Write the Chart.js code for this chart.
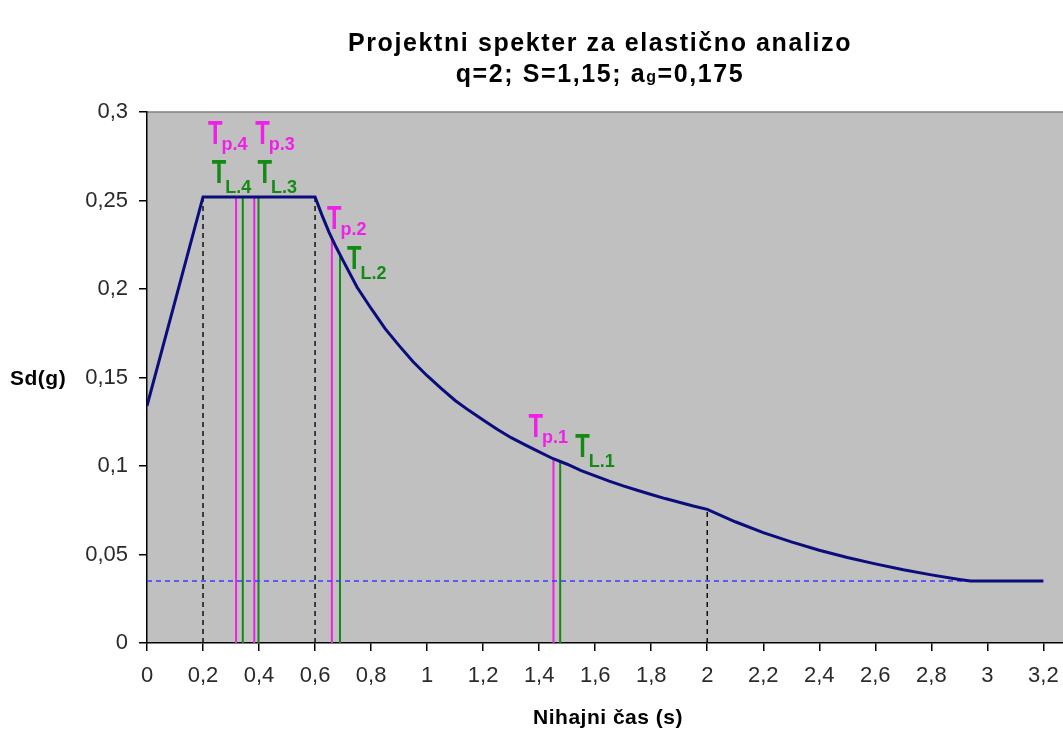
<!DOCTYPE html>
<html>
<head>
<meta charset="utf-8">
<script src="https://cdn.jsdelivr.net/npm/chart.js@4/dist/chart.umd.min.js"></script>
<style>
  html, body { margin: 0; padding: 0; background: #fff; }
  #wrap { width: 1063px; height: 729px; }
</style>
</head>
<body>
<div id="wrap"><canvas id="spectrum"></canvas></div>
<script>
// Design spectrum
const periods = [0, 0.1, 0.2, 0.6, 0.625, 0.65, 0.675, 0.7, 0.75, 0.8, 0.85, 0.9, 0.95, 1.0,
  1.05, 1.1, 1.15, 1.2, 1.25, 1.3, 1.35, 1.4, 1.45, 1.5, 1.55, 1.6, 1.65, 1.7, 1.75, 1.8,
  1.85, 1.9, 1.95, 2.0, 2.1, 2.2, 2.3, 2.4, 2.5, 2.6, 2.7, 2.8, 2.9, 2.94, 3.2];
const sdValues = [0.134, 0.193, 0.252, 0.252, 0.2416, 0.232, 0.2237, 0.216, 0.201, 0.189,
  0.1776, 0.168, 0.1589, 0.151, 0.1438, 0.137, 0.1313, 0.126, 0.1208, 0.116, 0.1119, 0.108,
  0.1041, 0.101, 0.0974, 0.0944, 0.0915, 0.0888, 0.0863, 0.0839, 0.0816, 0.0795, 0.0774,
  0.0755, 0.0685, 0.0624, 0.0571, 0.0524, 0.0483, 0.0447, 0.0414, 0.0385, 0.0359, 0.035, 0.035];

// corner periods TB, TC, TD
const cornerPeriods = [0.2, 0.6, 2.0];
const cornerSd = [0.252, 0.252, 0.0755];

// lower bound beta*ag
const lowerBound = 0.035;
const lowerBoundEnd = 2.94;

// periods of the structure (p) and (L)
const tpNames = ['p.1', 'p.2', 'p.3', 'p.4'];
const tpPeriods = [1.451, 0.66, 0.383, 0.318];
const tpSd = [0.104, 0.2275, 0.252, 0.252];
const tlNames = ['L.1', 'L.2', 'L.3', 'L.4'];
const tlPeriods = [1.475, 0.689, 0.398, 0.342];
const tlSd = [0.1024, 0.219, 0.252, 0.252];

const xTicks = [0, 0.2, 0.4, 0.6, 0.8, 1, 1.2, 1.4, 1.6, 1.8, 2, 2.2, 2.4, 2.6, 2.8, 3, 3.2];
const yTicks = [0, 0.05, 0.1, 0.15, 0.2, 0.25, 0.3];

const MAGENTA = '#f020e8';
const GREEN = '#138a13';
const FONT = '"Liberation Sans", Arial, sans-serif';
const fmt = v => String(Math.round(v * 100) / 100).replace('.', ',');

const vLine = (x, top, color, width, dash) => ({
  data: [{ x: x, y: 0 }, { x: x, y: top }],
  borderColor: color,
  borderWidth: width,
  borderDash: dash || [],
  pointRadius: 0,
  showLine: true,
});

const datasets = [{
  data: periods.map((t, i) => ({ x: t, y: sdValues[i] })),
  borderColor: '#0c0c7c',
  borderWidth: 3,
  pointRadius: 0,
  showLine: true,
}, {
  data: [{ x: 0, y: lowerBound }, { x: lowerBoundEnd, y: lowerBound }],
  borderColor: '#3a3aff',
  borderWidth: 1.5,
  borderDash: [5, 4],
  pointRadius: 0,
  showLine: true,
}];
tpPeriods.forEach((t, i) => datasets.push(vLine(t, tpSd[i], MAGENTA, 2)));
tlPeriods.forEach((t, i) => datasets.push(vLine(t, tlSd[i], GREEN, 2)));
cornerPeriods.forEach((t, i) => datasets.push(vLine(t, cornerSd[i], '#111', 1.5, [5, 4])));

// label offsets (px) from the top of each marker line
const tpOffsets = [[-25, -22], [-5, -11], [1, -53], [-28, -53]];
const tlOffsets = [[15, -5], [7, 14], [-1, -14], [-31, -14]];

const plotBg = {
  id: 'plotBg',
  beforeDraw(chart) {
    const { ctx, chartArea: a } = chart;
    ctx.save();
    ctx.fillStyle = '#fff';
    ctx.fillRect(0, 0, chart.width, chart.height);
    ctx.fillStyle = '#c0c0c0';
    ctx.fillRect(a.left, a.top, a.right - a.left, a.bottom - a.top);
    ctx.strokeStyle = '#808080';
    ctx.lineWidth = 1.5;
    ctx.beginPath();
    ctx.moveTo(a.left, a.top);
    ctx.lineTo(a.right, a.top);
    ctx.stroke();
    ctx.restore();
  },
};

function drawPeriodLabel(ctx, x, y, sub, color) {
  ctx.fillStyle = color;
  ctx.font = 'bold 33px ' + FONT;
  const w = ctx.measureText('T').width * 0.72;
  ctx.save();
  ctx.translate(x, y);
  ctx.scale(0.72, 1);
  ctx.fillText('T', 0, 0);
  ctx.restore();
  ctx.font = 'bold 18px ' + FONT;
  ctx.fillText(sub, x + w - 1, y + (sub[0] === 'L' ? 10 : 6));
}

const periodLabels = {
  id: 'periodLabels',
  afterDatasetsDraw(chart) {
    const { ctx, scales: { x, y } } = chart;
    ctx.save();
    ctx.textBaseline = 'alphabetic';
    ctx.textAlign = 'left';
    tpPeriods.forEach((t, i) => {
      drawPeriodLabel(ctx, x.getPixelForValue(t) + tpOffsets[i][0],
        y.getPixelForValue(tpSd[i]) + tpOffsets[i][1], tpNames[i], MAGENTA);
    });
    tlPeriods.forEach((t, i) => {
      drawPeriodLabel(ctx, x.getPixelForValue(t) + tlOffsets[i][0],
        y.getPixelForValue(tlSd[i]) + tlOffsets[i][1], tlNames[i], GREEN);
    });
    ctx.restore();
  },
};

const texts = {
  id: 'texts',
  afterDraw(chart) {
    const { ctx } = chart;
    ctx.save();
    ctx.fillStyle = '#000';
    ctx.textBaseline = 'alphabetic';
    ctx.textAlign = 'left';
    ctx.letterSpacing = '1.6px';
    ctx.font = 'bold 25px ' + FONT;
    const t1 = 'Projektni spekter za elastično analizo';
    const w1 = ctx.measureText(t1).width;
    ctx.fillText(t1, 600 - w1 / 2, 51);

    const a = 'q=2; S=1,15; a', g = 'g', b = '=0,175';
    const wa = ctx.measureText(a).width, wb = ctx.measureText(b).width;
    ctx.font = 'bold 16px ' + FONT;
    const wg = ctx.measureText(g).width;
    const sx = 600 - (wa + wg + wb) / 2;
    ctx.font = 'bold 25px ' + FONT;
    ctx.fillText(a, sx, 82);
    ctx.font = 'bold 16px ' + FONT;
    ctx.fillText(g, sx + wa, 82);
    ctx.font = 'bold 25px ' + FONT;
    ctx.fillText(b, sx + wa + wg, 82);

    ctx.letterSpacing = '0.5px';
    ctx.font = 'bold 21px ' + FONT;
    ctx.fillText('Sd(g)', 10, 385);
    ctx.textAlign = 'center';
    ctx.fillText('Nihajni čas (s)', 608, 724);
    ctx.restore();
  },
};

new Chart(document.getElementById('spectrum'), {
  type: 'scatter',
  data: { datasets },
  plugins: [plotBg, periodLabels, texts],
  options: {
    responsive: true,
    maintainAspectRatio: false,
    animation: false,
    layout: { padding: { top: 112, left: 0, right: 0, bottom: 0 } },
    plugins: { legend: { display: false }, title: { display: false }, tooltip: { enabled: false } },
    scales: {
      x: {
        type: 'linear',
        min: 0,
        max: 3.27,
        afterBuildTicks: s => { s.ticks = xTicks.map(v => ({ value: v })); },
        afterFit: s => { s.height = 86; s.paddingRight = 0; s.paddingLeft = 0; },
        border: { color: '#000', width: 1.5 },
        grid: { drawOnChartArea: false, color: '#000', tickLength: 8, lineWidth: 1.5 },
        ticks: {
          color: '#2a2a2a',
          padding: 12,
          maxRotation: 0,
          autoSkip: false,
          font: { family: FONT, size: 22 },
          callback: v => fmt(v),
        },
      },
      y: {
        type: 'linear',
        min: 0,
        max: 0.3,
        afterBuildTicks: s => { s.ticks = yTicks.map(v => ({ value: v })); },
        afterFit: s => { s.width = 147; s.paddingTop = 0; s.paddingBottom = 0; },
        border: { color: '#000', width: 1.5 },
        grid: { drawOnChartArea: false, color: '#000', tickLength: 8, lineWidth: 1.5 },
        ticks: {
          color: '#2a2a2a',
          padding: 11,
          font: { family: FONT, size: 22 },
          callback: v => fmt(v),
        },
      },
    },
  },
});
</script>
</body>
</html>
